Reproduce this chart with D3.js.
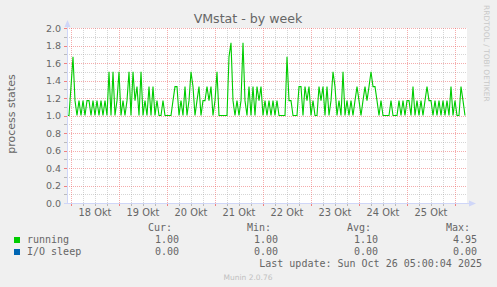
<!DOCTYPE html>
<html>
<head>
<meta charset="utf-8">
<title>VMstat - by week</title>
<script src="https://d3js.org/d3.v7.min.js"></script>
<style>
  body { margin: 0; background: #f0f0f0; }
  svg text { font-family: "DejaVu Sans", sans-serif; fill: #666; }
  .mono { font-family: "DejaVu Sans Mono", monospace; }
</style>
</head>
<body>
<div id="chart"></div>
<script>
// hourly samples, starting 2025-10-17 22:00
var startTime = new Date(2025, 9, 17, 22, 0);
var running = [
  1.0, 1.0, 1.33, 1.67, 1.17, 1.0, 1.17, 1.0, 1.17, 1.0,
  1.17, 1.17, 1.0, 1.17, 1.0, 1.17, 1.0, 1.17, 1.0, 1.17,
  1.0, 1.5, 1.0, 1.5, 1.0, 1.17, 1.5, 1.0, 1.17, 1.0,
  1.17, 1.5, 1.0, 1.5, 1.17, 1.33, 1.0, 1.5, 1.0, 1.17,
  1.0, 1.33, 1.0, 1.33, 1.0, 1.17, 1.0, 1.0, 1.17, 1.0,
  1.0, 1.0, 1.0, 1.17, 1.33, 1.33, 1.0, 1.17, 1.0, 1.33,
  1.0, 1.17, 1.5, 1.33, 1.0, 1.17, 1.33, 1.0, 1.17, 1.17,
  1.33, 1.17, 1.33, 1.0, 1.17, 1.5, 1.0, 1.0, 1.0, 1.0,
  1.0, 1.67, 1.83, 1.17, 1.0, 1.17, 1.0, 1.17, 1.83, 1.17,
  1.0, 1.33, 1.0, 1.33, 1.0, 1.33, 1.17, 1.33, 1.0, 1.17,
  1.0, 1.17, 1.0, 1.17, 1.0, 1.17, 1.0, 1.0, 1.0, 1.0,
  1.67, 1.17, 1.17, 1.0, 1.0, 1.0, 1.33, 1.33, 1.0, 1.33,
  1.17, 1.33, 1.0, 1.17, 1.0, 1.0, 1.33, 1.17, 1.33, 1.0,
  1.33, 1.0, 1.17, 1.5, 1.33, 1.0, 1.17, 1.0, 1.5, 1.0,
  1.17, 1.0, 1.17, 1.0, 1.17, 1.33, 1.17, 1.0, 1.17, 1.33,
  1.17, 1.33, 1.5, 1.33, 1.33, 1.17, 1.0, 1.17, 1.0, 1.0,
  1.0, 1.0, 1.17, 1.0, 1.0, 1.0, 1.17, 1.0, 1.17, 1.0,
  1.17, 1.17, 1.0, 1.33, 1.0, 1.17, 1.0, 1.17, 1.0, 1.17,
  1.33, 1.17, 1.17, 1.0, 1.17, 1.0, 1.17, 1.0, 1.17, 1.0,
  1.17, 1.0, 1.33, 1.0, 1.17, 1.0, 1.0, 1.33, 1.17, 1.0
];
var dayLabels = ["18 Okt", "19 Okt", "20 Okt", "21 Okt", "22 Okt", "23 Okt", "24 Okt", "25 Okt"];
var yTicks = [0, 0.2, 0.4, 0.6, 0.8, 1.0, 1.2, 1.4, 1.6, 1.8, 2.0];
var legendNames = ["running", "I/O sleep"];
var legendColors = ["#00cc00", "#0066b3"];
var legendCur = ["1.00", "0.00"];
var legendMin = ["1.00", "0.00"];
var legendAvg = ["1.10", "0.00"];
var legendMax = ["4.95", "0.00"];

var width = 497, height = 287;
var svg = d3.select("#chart").append("svg").attr("width", width).attr("height", height);
svg.append("rect").attr("width", width).attr("height", height).attr("fill", "#f0f0f0");

var data = running.map(function(v, i) {
  return { t: d3.timeHour.offset(startTime, i), v: v };
});

var x = d3.scaleTime()
  .domain([startTime, new Date(2025, 9, 26, 6, 0)])
  .range([67, 467]);
var y = d3.scaleLinear().domain([0, 2]).range([203, 28]);

// plot canvas
svg.append("rect").attr("x", 67).attr("y", 28).attr("width", 400).attr("height", 175).attr("fill", "#fff");

// grid
var grid = svg.append("g");
var minorY = d3.range(0, 21).map(function(d) { return d / 10; });
var majorCol = "rgba(235,90,90,0.5)", minorCol = "rgba(150,150,150,0.4)";
grid.selectAll(".hmin").data(minorY).enter().append("line")
  .attr("x1", 67).attr("x2", 467)
  .attr("y1", function(d) { return Math.round(y(d)) + 0.5; })
  .attr("y2", function(d) { return Math.round(y(d)) + 0.5; })
  .attr("stroke", function(d, i) { return i % 2 == 0 ? majorCol : minorCol; })
  .attr("stroke-dasharray", "1,1");

var sixHours = d3.timeHour.every(6).range(x.domain()[0], x.domain()[1]);
grid.selectAll(".vmin").data(sixHours).enter().append("line")
  .attr("y1", 28).attr("y2", 203)
  .attr("x1", function(d) { return Math.round(x(d)) + 0.5; })
  .attr("x2", function(d) { return Math.round(x(d)) + 0.5; })
  .attr("stroke", function(d) { return d.getHours() == 0 ? majorCol : minorCol; })
  .attr("stroke-dasharray", "1,1");

// small ticks below x axis / left of y axis
svg.selectAll(".xt").data(sixHours).enter().append("line")
  .attr("y1", 203).attr("y2", 206)
  .attr("x1", function(d) { return Math.round(x(d)) + 0.5; })
  .attr("x2", function(d) { return Math.round(x(d)) + 0.5; })
  .attr("stroke", function(d) { return d.getHours() == 0 ? "rgba(240,80,80,0.7)" : "rgba(150,150,150,0.6)"; });
svg.selectAll(".yt").data(minorY).enter().append("line")
  .attr("x1", 64).attr("x2", 67)
  .attr("y1", function(d) { return Math.round(y(d)) + 0.5; })
  .attr("y2", function(d) { return Math.round(y(d)) + 0.5; })
  .attr("stroke", function(d, i) { return i % 2 == 0 ? "rgba(240,80,80,0.7)" : "rgba(150,150,150,0.6)"; });

// data line
var line = d3.line().x(function(d) { return x(d.t); }).y(function(d) { return y(d.v); });
svg.append("path").datum(data).attr("d", line)
  .attr("fill", "none").attr("stroke", "#00cc00").attr("stroke-width", 1.1);

// axes with arrows
svg.append("line").attr("x1", 67.5).attr("x2", 67.5).attr("y1", 204).attr("y2", 24).attr("stroke", "#cfd6f8");
svg.append("line").attr("x1", 64).attr("x2", 470).attr("y1", 203.5).attr("y2", 203.5).attr("stroke", "#cfd6f8");
svg.append("path").attr("d", "M64.5,27 L67.5,20 L70.5,27 Z").attr("fill", "#cfd6f8");
svg.append("path").attr("d", "M469,200.5 L476,203.5 L469,206.5 Z").attr("fill", "#cfd6f8");

// y tick labels
svg.selectAll(".ylab").data(yTicks).enter().append("text")
  .attr("x", 61).attr("y", function(d) { return y(d) + 3.5; })
  .attr("text-anchor", "end").style("font-size", "9.5px")
  .text(function(d) { return d.toFixed(1); });

// x day labels (at noon)
svg.selectAll(".xlab").data(dayLabels).enter().append("text")
  .attr("x", function(d, i) { return x(new Date(2025, 9, 18 + i, 12, 0)); })
  .attr("y", 216).attr("text-anchor", "middle").style("font-size", "9.8px")
  .text(function(d) { return d; });

// titles
svg.append("text").attr("x", 248).attr("y", 23).attr("text-anchor", "middle")
  .style("font-size", "12.6px").text("VMstat - by week");
svg.append("text").attr("transform", "translate(15,114) rotate(-90)").attr("text-anchor", "middle")
  .style("font-size", "11px").text("process states");
svg.append("text").attr("transform", "translate(484,5) rotate(90)")
  .style("font-size", "7.5px").style("fill", "#c8c8c8").text("RRDTOOL / TOBI OETIKER");

// legend
var legend = svg.append("g").attr("class", "mono");
var colsRight = [172, 271, 371, 470];
["Cur:", "Min:", "Avg:", "Max:"].forEach(function(h, i) {
  legend.append("text").attr("class", "mono").attr("x", colsRight[i]).attr("y", 231)
    .attr("text-anchor", "end").style("font-size", "10px").text(h);
});
legendNames.forEach(function(name, r) {
  var yy = 243 + r * 12;
  legend.append("rect").attr("x", 14).attr("y", yy - 6).attr("width", 6).attr("height", 6).attr("fill", legendColors[r]);
  legend.append("text").attr("class", "mono").attr("x", 27).attr("y", yy).style("font-size", "10px").text(name);
  [legendCur[r], legendMin[r], legendAvg[r], legendMax[r]].forEach(function(v, i) {
    legend.append("text").attr("class", "mono").attr("x", colsRight[i] + 7).attr("y", yy)
      .attr("text-anchor", "end").style("font-size", "10px").text(v);
  });
});
legend.append("text").attr("class", "mono").attr("x", 482).attr("y", 267)
  .attr("text-anchor", "end").style("font-size", "10px").text("Last update: Sun Oct 26 05:00:04 2025");
svg.append("text").attr("x", 248).attr("y", 280).attr("text-anchor", "middle")
  .style("font-size", "7.5px").style("fill", "#c0c0c0").text("Munin 2.0.76");
</script>
</body>
</html>
